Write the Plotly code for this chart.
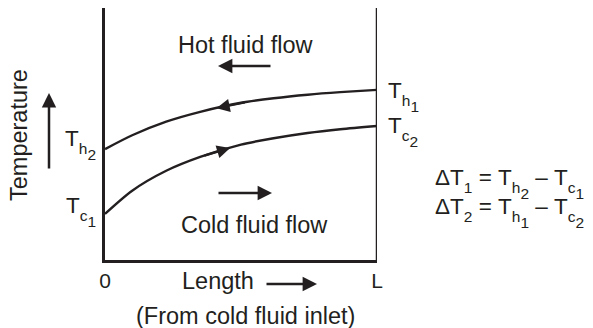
import numpy as np
import plotly.graph_objects as go

# ---- data ----
length = [0, 0.1, 0.225, 0.35, 0.5, 0.62, 0.745, 0.865, 1.0]
hot_temp = [44.0, 49.5, 54.9, 58.8, 62.4, 64.2, 65.6, 66.6, 67.5]
cold_temp = [18.3, 27.5, 35.4, 40.9, 45.8, 48.3, 50.4, 51.9, 53.2]
x_tick_vals = [0, 1]
x_tick_text = ["0", "L"]

INK = "#231f20"
FONT = "Liberation Sans, Arial, Helvetica, sans-serif"
FS = 23.5      # general text
BASE = 40      # base size for subscript labels (controls subscript drop)
TS = 22.5      # visible size of T / Delta / = / dash
SS = 15.5      # visible size of subscripts
NB = "\u00a0"

W, H = 593, 328
L_M, R_M, T_M, B_M = 105, 216, 8, 68
PW, PH = W - L_M - R_M, H - T_M - B_M


def pp(px, py):
    """pixel -> paper coordinates (for decorations only)"""
    return (px - L_M) / PW, (H - B_M - py) / PH


def big(s):
    return f"<span style='font-size:{TS}px'>{s}</span>"


def small(s):
    return f"<span style='font-size:{SS}px'>{s}</span>"


def tsub(a, b):
    return big("T") + f"<sub>{small(a)}<sub>{small(b)}</sub></sub>"


def dsub(b):
    return big("\u0394T") + f"<sub>{small(b)}</sub>"


fig = go.Figure()
fig.add_trace(go.Scatter(x=length, y=hot_temp, mode="lines",
                         line=dict(color=INK, width=2.4, shape="spline", smoothing=0.8),
                         hoverinfo="skip", showlegend=False))
fig.add_trace(go.Scatter(x=length, y=cold_temp, mode="lines",
                         line=dict(color=INK, width=2.4, shape="spline", smoothing=0.8),
                         hoverinfo="skip", showlegend=False))

ann = []


def text(px, py, s, xa="center", ya="middle", angle=0, size=FS):
    x, y = pp(px, py)
    ann.append(dict(x=x, y=y, xref="paper", yref="paper", text=s, showarrow=False,
                    xanchor=xa, yanchor=ya, textangle=angle,
                    font=dict(family=FONT, size=size, color=INK)))


def arrow(tip_px, tip_py, ax, ay):
    x, y = pp(tip_px, tip_py)
    ann.append(dict(x=x, y=y, xref="paper", yref="paper", ax=ax, ay=ay, text="",
                    showarrow=True, arrowhead=2, arrowsize=1.15, arrowwidth=2.5,
                    arrowcolor=INK))


def curve_arrow(xs, ys, tip, tail):
    ty = float(np.interp(tip, xs, ys))
    ay = float(np.interp(tail, xs, ys))
    ann.append(dict(x=tip, y=ty, xref="x", yref="y", ax=tail, ay=ay, axref="x", ayref="y",
                    text="", showarrow=True, arrowhead=2, arrowsize=1.2, arrowwidth=2.2,
                    arrowcolor=INK))


# flow labels and arrows
text(246, 45, "Hot fluid flow")
arrow(218, 66, 54, 0)
text(254, 225, "Cold fluid flow")
arrow(272, 193, -55, 0)

# curve arrows
curve_arrow(length, hot_temp, 0.41, 0.52)
curve_arrow(length, cold_temp, 0.46, 0.36)

# y label
text(19, 135, "Temperature", angle=-90)
arrow(49, 93, 0, 77)

# end labels
text(98, 144, tsub("h", "2"), xa="right", size=BASE)
text(98, 211, tsub("c", "1"), xa="right", size=BASE)
text(386, 96, tsub("h", "1"), xa="left", size=BASE)
text(386, 131, tsub("c", "2"), xa="left", size=BASE)

# equations
EQ = big(NB + "=" + NB)
DASH = big(NB + "\u2013" + NB)
text(433, 183, dsub("1") + EQ + tsub("h", "2") + DASH + tsub("c", "1"), xa="left", size=BASE)
text(433, 212, dsub("2") + EQ + tsub("h", "1") + DASH + tsub("c", "2"), xa="left", size=BASE)

# x axis text
text(218, 281, "Length")
arrow(317, 284, -52, 0)
text(245, 316, "(From cold fluid inlet)")

fig.add_shape(type="line", x0=1, x1=1, xref="x", y0=0, y1=1, yref="paper",
              line=dict(color=INK, width=2.5))

fig.update_layout(
    width=W, height=H, margin=dict(l=L_M, r=R_M, t=T_M, b=B_M),
    paper_bgcolor="white", plot_bgcolor="white",
    annotations=ann,
    xaxis=dict(range=[0, 1], showgrid=False, zeroline=False, showline=True,
               linecolor=INK, linewidth=2.5, tickvals=x_tick_vals, ticktext=x_tick_text,
               ticks="", tickfont=dict(family=FONT, size=21, color=INK)),
    yaxis=dict(range=[0, 100], showgrid=False, zeroline=False, showline=True,
               linecolor=INK, linewidth=2.5, showticklabels=False, ticks=""),
)

fig.write_html("out.html")
